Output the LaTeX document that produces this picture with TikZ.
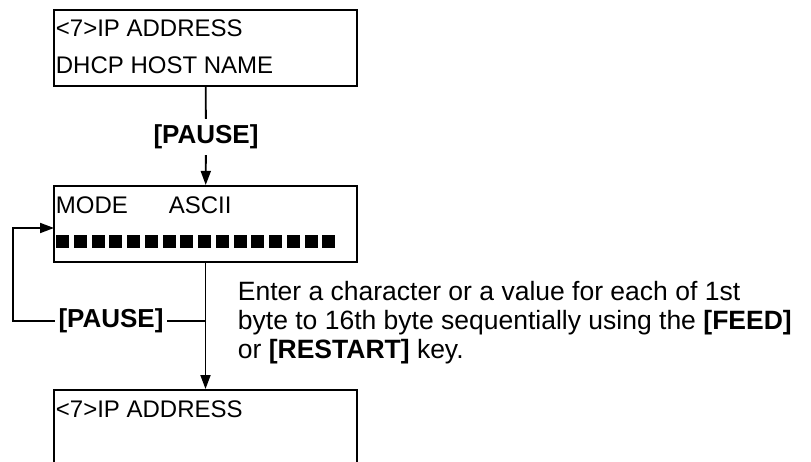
\documentclass[tikz,border=0pt]{standalone}
\usepackage{fontspec}
\setmainfont{Liberation Sans}
\usetikzlibrary{arrows.meta,positioning,calc}
\tikzset{
  >={Triangle[length=14pt,width=10pt]},
  every picture/.style={line width=1.8pt},
  screen/.style={draw, line width=2.1pt, minimum width=303pt, minimum height=76pt, inner sep=0pt},
  lcd/.style={inner sep=0pt, font=\fontsize{24}{28}\selectfont},
  keylabel/.style={inner xsep=3pt, inner ysep=5pt, font=\fontsize{26}{30}\selectfont\bfseries},
  note/.style={inner sep=0pt, align=left, font=\fontsize{26.5}{29}\selectfont},
  arrow/.style={->}
}
\begin{document}
\begin{tikzpicture}[x=1pt,y=-1pt]
  \useasboundingbox (0,0) rectangle (811,462);
  \clip (0,0) rectangle (811,462);

  % screens
  \node[screen] (box1) at (205.5,48) {};
  \node[screen] (box2) at (205.5,224) {};
  \node[screen,anchor=north] (box3) at (205.5,389) {};

  \node[lcd,anchor=base west] (b1l1) at (55,37) {<7>IP ADDRESS};
  \node[lcd,anchor=base west] (b1l2) at (55,74) {DHCP HOST NAME};
  \node[lcd,anchor=base west] (b2l1) at (55,214) {MODE};
  \node[lcd,anchor=base west] (b2l2) at (168,214) {ASCII};
  \foreach \i in {0,...,15}
    \fill (56+\i*17.75,235) rectangle ++(13,13);
  \node[lcd,anchor=base west] (b3l1) at (55,417) {<7>IP ADDRESS};

  % keys
  \node[keylabel] (pause1) at (206,137) {[PAUSE]};
  \node[keylabel] (pause2) at (111,321) {[PAUSE]};
  \coordinate (split) at (206,321);
  \coordinate (back) at (13,321);
  \coordinate (entry) at (54,228);

  \draw (box1) -- (pause1);
  \draw[arrow] (pause1) -- (box2);
  \draw[arrow] (box2) -- (box3);
  \draw (split) -- (pause2);
  \draw[arrow] (pause2) -- (back) |- (entry);

  \node[note,anchor=north west] (hint) at (237,280)
    {Enter a character or a value for each of 1st\\
     byte to 16th byte sequentially using the \textbf{[FEED]}\\
     or \textbf{[RESTART]} key.};
\end{tikzpicture}
\end{document}
